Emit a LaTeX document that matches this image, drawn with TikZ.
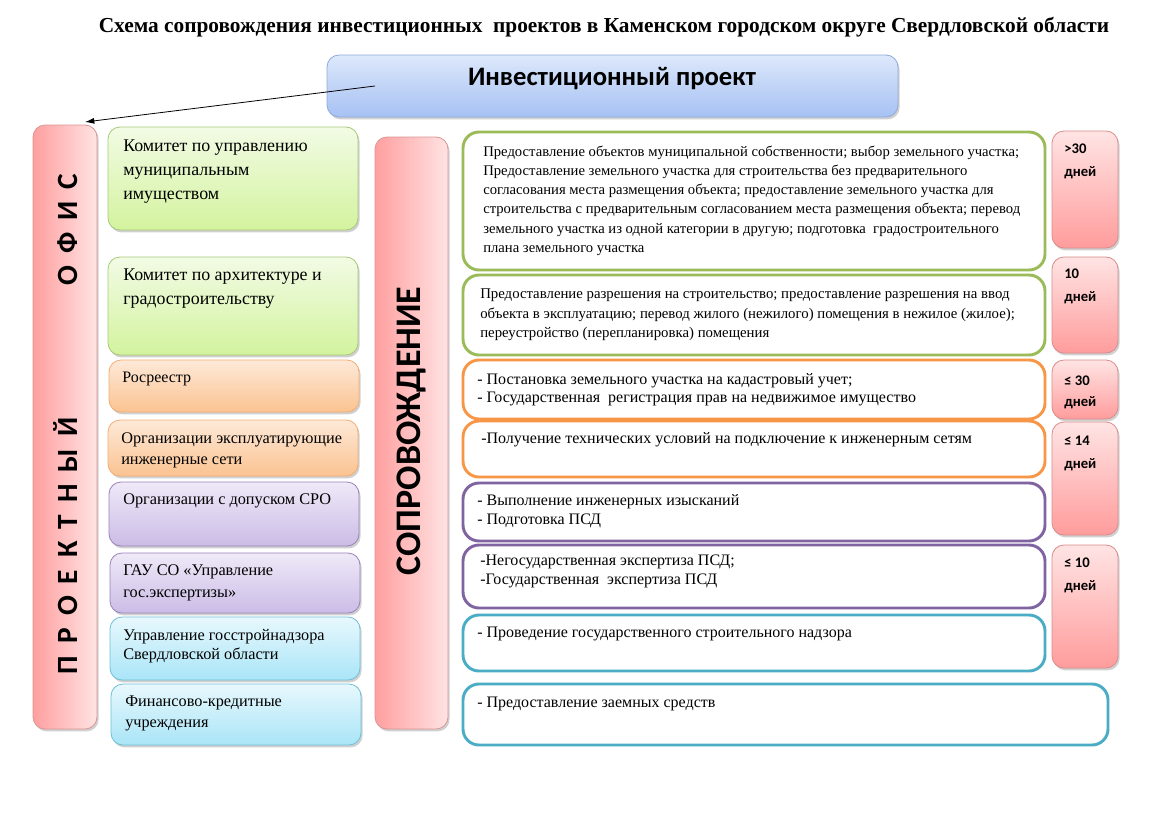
\documentclass[tikz,border=0pt]{standalone}
\usepackage{fontspec}
\setmainfont{Liberation Serif}
\newfontfamily\carl{Carlito}
\usetikzlibrary{shadows,arrows.meta}
\definecolor{topT}{HTML}{DDE8FB}\definecolor{topB}{HTML}{A6C1F3}\definecolor{topD}{HTML}{8EAADB}
\definecolor{redL}{HTML}{FF9F9F}\definecolor{redR}{HTML}{FFE3E3}\definecolor{redD}{HTML}{D99694}
\definecolor{grnT}{HTML}{F2FBE5}\definecolor{grnB}{HTML}{D3F39E}\definecolor{grnD}{HTML}{A8C878}
\definecolor{orgT}{HTML}{FDE9D8}\definecolor{orgB}{HTML}{FBC391}\definecolor{orgD}{HTML}{F2AD74}
\definecolor{purT}{HTML}{EFE9F8}\definecolor{purB}{HTML}{CBBCE6}\definecolor{purD}{HTML}{9982B8}
\definecolor{cyaT}{HTML}{E8F8FD}\definecolor{cyaB}{HTML}{A9E5F7}\definecolor{cyaD}{HTML}{6FC0D6}
\definecolor{rG}{HTML}{9BBB59}\definecolor{rO}{HTML}{F79646}\definecolor{rP}{HTML}{8064A2}\definecolor{rC}{HTML}{4BACC6}
\definecolor{dayT}{HTML}{FFE4E4}\definecolor{dayB}{HTML}{FF9C9C}\definecolor{dayD}{HTML}{D98C8C}
\newcommand\mkbox[6]{\node[#2, minimum width={(#5-#3)*0.75pt}, minimum height={(#6-#4)*0.75pt}] (#1) at ({(#3+#5)/2},{(#4+#6)/2}) {};}
\begin{document}
\begin{tikzpicture}[x=0.75pt,y=-0.75pt,
  shd/.style={drop shadow={shadow xshift=1.2pt, shadow yshift=-1.8pt, opacity=0.3, fill=black!60}},
  base/.style={draw, rounded corners=9pt, inner sep=0pt, outer sep=0pt, line width=0.6pt, shd},
  topbox/.style={base, draw=topD, top color=topT, bottom color=topB},
  redbox/.style={base, draw=redD, left color=redL, right color=redR},
  gbox/.style={base, draw=grnD, top color=grnT, bottom color=grnB},
  obox/.style={base, draw=orgD, top color=orgT, bottom color=orgB},
  pbox/.style={base, draw=purD, top color=purT, bottom color=purB},
  cbox/.style={base, draw=cyaD, top color=cyaT, bottom color=cyaB},
  wbox/.style={draw, fill=white, line width=2.2pt, rounded corners=12pt, inner sep=0pt, outer sep=0pt},
  dbox/.style={base, draw=dayD, top color=dayT, bottom color=dayB},
  ltxt/.style={anchor=north west, inner sep=0pt, align=left},
  rtxt/.style={anchor=north west, inner sep=0pt, align=left},
  dtxt/.style={anchor=north west, inner sep=0pt, align=left, font=\carl\bfseries\fontsize{11}{17}\selectfont},
]
\useasboundingbox (0,0) rectangle (1152,828);
\fill[white] (0,0) rectangle (1152,828);

% title
\node[inner sep=0pt] (title) at (604,27) {\bfseries\fontsize{16}{19}\selectfont Схема сопровождения инвестиционных\ \ проектов в Каменском городском округе Свердловской области};

% top box
\mkbox{ip}{topbox}{327}{55}{898}{117}
\node[font=\carl\bfseries\fontsize{20}{24}\selectfont, inner sep=0pt] (iptxt) at (612,79) {Инвестиционный проект};

% left vertical
\mkbox{po}{redbox}{33}{125}{97}{729}
\def\sp{\hskip 9pt}
\node[rotate=90, inner sep=0pt, font=\carl\bfseries\fontsize{22}{22}\selectfont] (potxt) at (66,424)
 {П\sp Р\sp О\sp Е\sp К\sp Т\sp Н\sp Ы\sp Й\hskip 99pt О\sp Ф\sp И\sp С};

% middle vertical
\mkbox{sp}{redbox}{375}{137}{448}{729}
\node[rotate=90, inner sep=0pt, font=\carl\bfseries\fontsize{27}{27}\selectfont] (sptxt) at (411,431) {СОПРОВОЖДЕНИЕ};

% arrow
\coordinate (as) at (375,86);
\draw[line width=0.6pt, -{Latex[length=7pt,width=4.5pt]}] (as) -- ([xshift=-9pt,yshift=2.25pt]po.north east);

% left column
\mkbox{L1}{gbox}{108}{127}{358}{230}
\mkbox{L2}{gbox}{108}{257}{358}{355}
\mkbox{L3}{obox}{109}{360}{359}{412}
\mkbox{L4}{obox}{108}{420}{358}{476}
\mkbox{L5}{pbox}{109}{482}{359}{546}
\mkbox{L6}{pbox}{110}{553}{360}{613}
\mkbox{L7}{cbox}{110}{617}{360}{680}
\mkbox{L8}{cbox}{111}{684}{361}{745}

\node[ltxt, font=\fontsize{13.4}{18}\selectfont] (t1) at (123,140) {Комитет по управлению\\муниципальным\\имуществом};
\node[ltxt, font=\fontsize{13.4}{17.3}\selectfont] (t2) at (123,269) {Комитет по архитектуре и\\градостроительству};
\node[ltxt, font=\fontsize{12}{15}\selectfont] (t3) at (122,372) {Росреестр};
\node[ltxt, font=\fontsize{12.2}{15.8}\selectfont] (t4) at (121,432) {Организации эксплуатирующие\\инженерные сети};
\node[ltxt, font=\fontsize{12.2}{15}\selectfont] (t5) at (123,493) {Организации с допуском СРО};
\node[ltxt, font=\fontsize{12.2}{16.5}\selectfont] (t6) at (123,564) {ГАУ СО «Управление\\гос.экспертизы»};
\node[ltxt, font=\fontsize{12.2}{14.3}\selectfont] (t7) at (123,629) {Управление госстройнадзора\\Свердловской области};
\node[ltxt, font=\fontsize{12.2}{15.8}\selectfont] (t8) at (125,696) {Финансово-кредитные\\учреждения};

% right column
\mkbox{R1}{wbox, draw=rG}{463}{132}{1045}{270}
\mkbox{R2}{wbox, draw=rG}{463}{275}{1045}{355}
\mkbox{R3}{wbox, draw=rO}{463}{360}{1045}{419}
\mkbox{R4}{wbox, draw=rO}{463}{421}{1045}{477}
\mkbox{R5}{wbox, draw=rP}{463}{483}{1045}{541}
\mkbox{R6}{wbox, draw=rP}{463}{545}{1045}{608}
\mkbox{R7}{wbox, draw=rC}{463}{615}{1045}{671}
\mkbox{R8}{wbox, draw=rC}{463}{684}{1108}{745}

\node[rtxt, font=\fontsize{11}{14.3}\selectfont] (r1) at (483,146) {Предоставление объектов муниципальной собственности; выбор земельного участка;\\Предоставление земельного участка для строительства без предварительного\\согласования места размещения объекта; предоставление земельного участка для\\строительства с предварительным согласованием места размещения объекта; перевод\\земельного участка из одной категории в другую; подготовка\ \ градостроительного\\плана земельного участка};
\node[rtxt, font=\fontsize{11.1}{14.6}\selectfont] (r2) at (480,289) {Предоставление разрешения на строительство; предоставление разрешения на ввод\\объекта в эксплуатацию; перевод жилого (нежилого) помещения в нежилое (жилое);\\переустройство (перепланировка) помещения};
\node[rtxt, font=\fontsize{12}{13.5}\selectfont] (r3) at (477,373) {- Постановка земельного участка на кадастровый учет;\\- Государственная\ \ регистрация прав на недвижимое имущество};
\node[rtxt, font=\fontsize{12}{13.5}\selectfont] (r4) at (481,432) {-Получение технических условий на подключение к инженерным сетям};
\node[rtxt, font=\fontsize{12}{14.2}\selectfont] (r5) at (477,494) {- Выполнение инженерных изысканий\\- Подготовка ПСД};
\node[rtxt, font=\fontsize{12}{14.2}\selectfont] (r6) at (480,555) {-Негосударственная экспертиза ПСД;\\-Государственная\ \ экспертиза ПСД};
\node[rtxt, font=\fontsize{12}{13.5}\selectfont] (r7) at (477,627) {- Проведение государственного строительного надзора};
\node[rtxt, font=\fontsize{12}{13.5}\selectfont] (r8) at (477,697) {- Предоставление заемных средств};

% day boxes
\mkbox{D1}{dbox}{1052}{131}{1118}{248}
\mkbox{D2}{dbox}{1052}{257}{1118}{353}
\mkbox{D3}{dbox}{1052}{360}{1118}{419}
\mkbox{D4}{dbox}{1052}{422}{1118}{535}
\mkbox{D5}{dbox}{1052}{545}{1118}{668}
\node[dtxt] (d1) at (1064,144) {>30\\дней};
\node[dtxt] (d2) at (1064,269) {10\\дней};
\node[dtxt, font=\carl\bfseries\fontsize{11}{15.8}\selectfont] (d3) at (1064,376) {≤ 30\\дней};
\node[dtxt] (d4) at (1064,436) {≤ 14\\дней};
\node[dtxt] (d5) at (1064,558) {≤ 10\\дней};
\end{tikzpicture}
\end{document}
